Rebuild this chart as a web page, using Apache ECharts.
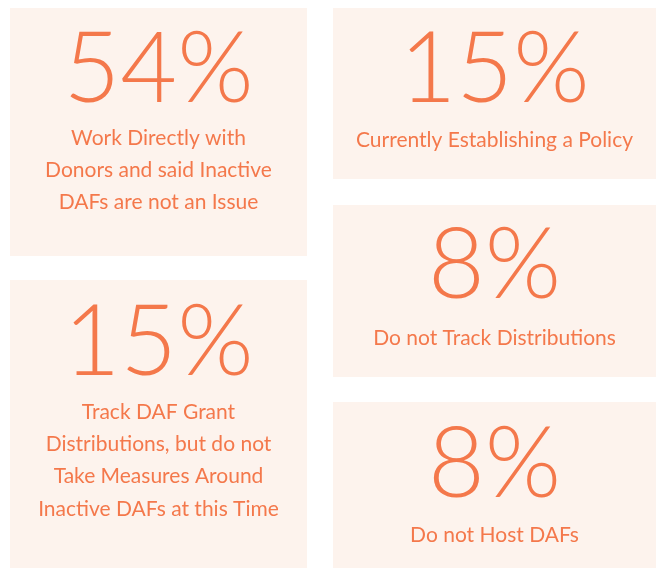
<!DOCTYPE html>
<html>
<head>
<meta charset="utf-8">
<script src="https://cdn.jsdelivr.net/npm/echarts@6/dist/echarts.min.js"></script>
<style>
  html, body { margin: 0; padding: 0; background: #ffffff; }
  #chart { width: 658px; height: 568px; }
</style>
</head>
<body>
<div id="chart"></div>
<script>
// 数据：百分比与说明文字
const percents = [54, 15, 8, 15, 8]
const captions = [
  ['Work Directly with', 'Donors and said Inactive', 'DAFs are not an Issue'],
  ['Currently Establishing a Policy'],
  ['Do not Track Distributions'],
  ['Track DAF Grant', 'Distributions, but do not', 'Take Measures Around', 'Inactive DAFs at this Time'],
  ['Do not Host DAFs']
]

// 布局：每个卡片的位置（与数据分开）
const cards = [
  { x: 10, y: 8, w: 297, h: 248, numY: 70, capY: 138 },
  { x: 333, y: 8, w: 323, h: 171, numY: 70, capY: 140 },
  { x: 333, y: 205, w: 323, h: 172, numY: 266, capY: 338 },
  { x: 10, y: 280, w: 297, h: 288, numY: 343, capY: 412 },
  { x: 333, y: 402, w: 323, h: 166, numY: 465, capY: 535 }
]

const ORANGE = '#f4784b'
const FILL = '#fdf3ed'
const FONT = 'Lato, "Noto Sans", sans-serif'
const LINE_H = 32.3

const chart = echarts.init(document.getElementById('chart'))

const elements = []
percents.forEach((value, i) => {
  const c = cards[i]
  const cx = c.x + c.w / 2
  /* 卡片背景 */
  elements.push({
    type: 'rect',
    shape: { x: c.x, y: c.y, width: c.w, height: c.h },
    style: { fill: FILL }
  })
  /* 大号百分比 */
  elements.push({
    type: 'text',
    x: cx,
    y: c.numY,
    style: {
      text: value + '%',
      fill: ORANGE,
      font: '300 98px ' + FONT,
      align: 'center',
      verticalAlign: 'middle'
    }
  })
  /* 说明文字 */
  captions[i].forEach((line, j) => {
    elements.push({
      type: 'text',
      x: cx,
      y: c.capY + j * LINE_H,
      style: {
        text: line,
        fill: ORANGE,
        font: '400 21px ' + FONT,
        align: 'center',
        verticalAlign: 'middle'
      }
    })
  })
})

chart.setOption({
  animation: false,
  graphic: { elements: elements }
})
</script>
</body>
</html>
